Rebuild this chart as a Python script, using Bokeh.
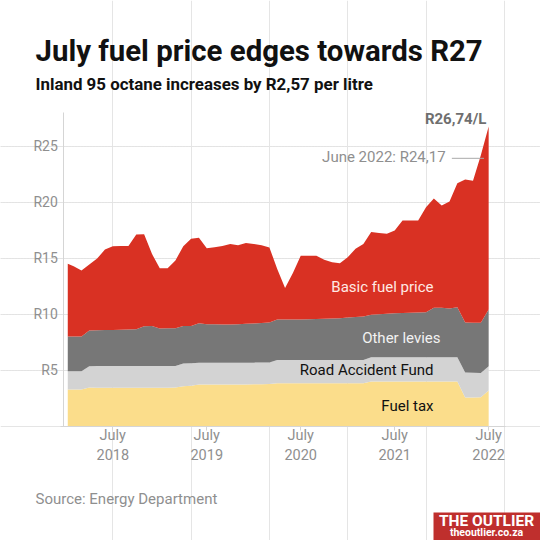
from bokeh.plotting import figure
from bokeh.embed import file_html
from bokeh.resources import INLINE
from bokeh.models import Label, BoxAnnotation, FixedTicker, LinearAxis, Grid

# months relative to July 2018
months = [-5.75] + list(range(-5, 49))
total = [14.48,14.27,13.88,14.42,14.95,15.76,16.06,16.08,16.08,17.1,17.12,15.37,14.09,14.09,14.78,16.06,16.71,16.8,15.88,15.97,16.08,16.26,16.14,16.35,16.26,16.14,15.94,14.03,12.33,13.67,15.2,15.2,15.2,14.84,14.63,14.54,15.07,15.82,16.26,17.33,17.24,17.16,17.46,18.35,18.35,18.35,19.54,20.31,19.69,20.04,21.68,22.0,21.9,24.17,26.74]
levies_top = [7.99,7.99,7.99,8.53,8.55,8.57,8.58,8.6,8.62,8.65,8.91,8.94,8.7,8.72,8.73,8.94,8.94,9.18,9.09,9.08,9.07,9.06,9.09,9.12,9.16,9.2,9.24,9.5,9.5,9.5,9.52,9.54,9.56,9.58,9.6,9.63,9.7,9.74,9.78,9.93,9.97,10.02,10.07,10.1,10.12,10.14,10.16,10.55,10.55,10.5,10.6,9.24,9.22,9.21,10.4]
raf_top = [4.9,4.9,4.9,5.34,5.36,5.37,5.37,5.37,5.37,5.37,5.37,5.37,5.37,5.37,5.37,5.58,5.6,5.64,5.64,5.64,5.65,5.65,5.65,5.66,5.66,5.67,5.67,5.9,5.9,5.9,5.9,5.9,5.9,5.9,5.9,5.9,5.9,5.9,5.9,6.14,6.14,6.14,6.14,6.14,6.14,6.14,6.14,6.14,6.14,6.14,6.14,4.77,4.75,4.74,5.34]
fuel_top = [3.26,3.26,3.26,3.44,3.42,3.42,3.41,3.41,3.41,3.41,3.41,3.41,3.41,3.41,3.44,3.56,3.6,3.7,3.7,3.7,3.7,3.7,3.7,3.7,3.72,3.74,3.76,3.82,3.82,3.82,3.82,3.82,3.82,3.82,3.82,3.82,3.82,3.82,3.82,3.97,3.97,3.97,3.97,3.97,3.97,3.97,3.97,3.97,3.97,3.97,3.97,2.54,2.55,2.57,3.17]
baseline = [0.0] * len(months)

x_ticks = [0, 12, 24, 36, 48]
x_labels = ["July\n2018", "July\n2019", "July\n2020", "July\n2021", "July\n2022"]
y_ticks = [5, 10, 15, 20, 25]
y_labels = ["R5", "R10", "R15", "R20", "R25"]

FONT = "Roboto"
GREY = "#8f8f8f"
W = 540

p = figure(width=W, height=W, output_backend="svg", toolbar_location=None,
           x_range=(-14.34, 54.62), y_range=(-10.22, 37.99),
           min_border=0, x_axis_location=None, y_axis_location=None,
           background_fill_color="white", border_fill_color="white", outline_line_color=None)

p.varea(months, baseline, fuel_top, fill_color="#fbdd8b")
p.varea(months, fuel_top, raf_top, fill_color="#d3d3d3")
p.varea(months, raf_top, levies_top, fill_color="#777777")
p.varea(months, levies_top, total, fill_color="#d93123")

ax = LinearAxis(fixed_location=0, bounds=(-6.68, 50.15))
ax.ticker = FixedTicker(ticks=x_ticks)
ax.major_label_overrides = dict(zip(x_ticks, x_labels))
ax.major_label_text_font = FONT
ax.major_label_text_font_size = "14.5px"
ax.major_label_text_color = GREY
ax.axis_line_color = "#d5d5d5"
ax.major_tick_line_color = "#d5d5d5"
ax.major_tick_out = 4
ax.major_tick_in = 0
ax.minor_tick_line_color = None
ax.major_label_standoff = -3
p.add_layout(ax, "below")

ay = LinearAxis(fixed_location=-6.26, bounds=(0, 28))
ay.ticker = FixedTicker(ticks=y_ticks)
ay.major_label_overrides = dict(zip(y_ticks, y_labels))
ay.major_label_text_font = FONT
ay.major_label_text_font_size = "14px"
ay.major_label_text_color = GREY
ay.axis_line_color = "#d5d5d5"
ay.major_tick_line_color = None
ay.minor_tick_line_color = None
ay.major_label_standoff = 0
p.add_layout(ay, "left")

p.add_layout(Grid(dimension=1, ticker=FixedTicker(ticks=y_ticks), bounds=(-5.9, 50.15),
                  grid_line_color="#e0e0e0", grid_line_dash=[1, 2], grid_line_width=1))

def screen(text, x, y, size, color, weight="normal", align="left"):
    p.add_layout(Label(x=x, y=W - y, x_units="screen", y_units="screen", text=text,
                       text_font=FONT, text_font_size=size, text_color=color,
                       text_font_style=weight, text_align=align, text_baseline="middle"))

def data(text, x, y, size, color, weight="normal"):
    p.add_layout(Label(x=x, y=y, text=text, text_font=FONT, text_font_size=size, text_color=color,
                       text_font_style=weight, text_align="right", text_baseline="middle"))

screen("July fuel price edges towards R27", 35, 50, "29.4px", "#111111", "bold")
screen("Inland 95 octane increases by R2,57 per litre", 35, 83, "16.9px", "#111111", "bold")
screen("Source: Energy Department", 35, 498, "15px", GREY)

data("Basic fuel price", 40.96, 12.45, "15px", "#ffe9e4")
data("Other levies", 41.85, 7.9, "15px", "#f2f2f2")
data("Road Accident Fund", 40.96, 4.96, "15px", "#111111")
data("Fuel tax", 40.96, 1.83, "15px", "#111111")
data("R26,74/L", 47.7, 27.4, "15px", "#6f6f6f", "bold")
data("June 2022: R24,17", 42.5, 24.0, "15px", GREY)
p.segment([43.3], [23.9], [47.4], [23.9], line_color="#aaaaaa", line_width=1)

p.add_layout(BoxAnnotation(left=433, right=W, top=W - 512, bottom=0,
                           left_units="screen", right_units="screen", top_units="screen", bottom_units="screen",
                           fill_color="#bf2f2d", fill_alpha=1, line_color=None))
screen("THE OUTLIER", 486, 520, "15.5px", "white", "bold", "center")
screen("theoutlier.co.za", 486, 532, "10.5px", "white", "bold", "center")

open("out.html", "w").write(file_html(p, INLINE))
